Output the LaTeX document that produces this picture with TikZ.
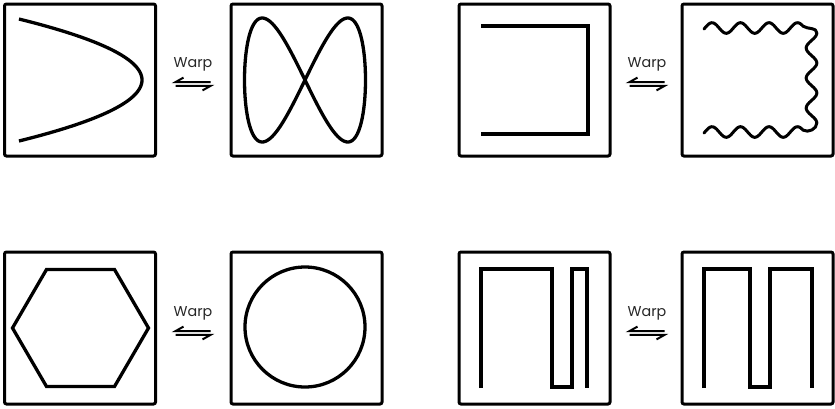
\documentclass[tikz,border=0pt]{standalone}
\usepackage{fontspec}
\setmainfont{Poppins}
\begin{document}
\begin{tikzpicture}[x=1pt,y=-1pt,
  frame/.style={draw=black, line width=3pt, rounded corners=2pt, minimum width=151pt, minimum height=152pt, inner sep=0pt},
  shape line/.style={draw=black, line width=3.3pt, line join=miter},
  harp/.style={draw=black, line width=2pt, line join=miter},
  warplabel/.style={font=\fontsize{14.3}{16}\selectfont, anchor=base, inner sep=0pt, text=black!85}]
\useasboundingbox (0,0) rectangle (835,408);

% frames
\node[frame] (b1) at (80,80) {};
\node[frame] (b2) at (306.5,80) {};
\node[frame] (b3) at (534.5,80) {};
\node[frame] (b4) at (757.5,80) {};
\node[frame] (b5) at (80,328) {};
\node[frame] (b6) at (306.5,328) {};
\node[frame] (b7) at (534.5,328) {};
\node[frame] (b8) at (757.5,328) {};

% 1: parabola
\draw[shape line] plot[domain=-61:61, samples=90, variable=\t] ({142-0.03306*\t*\t},{80+\t});
% 2: figure eight
\draw[shape line] plot[domain=0:360, samples=200, smooth, variable=\t] ({305+60.5*cos(\t)},{80+62*sin(2*\t)}) -- cycle;
% 3: bracket
\draw[shape line] (481,26) -- (588,26) -- (588,134) -- (481,134);
% 4: wavy bracket
\draw[shape line, line width=3pt, line join=round, line cap=round]
  plot[domain=704:803, samples=80, variable=\t] ({\t},{28-5.3*cos(12.6316*(\t-712))})
  to[out=-35,in=90] (816.8,33)
  -- plot[domain=33:123, samples=80, variable=\t] ({811.5+5.3*cos(12*(\t-33))},{\t})
  to[out=-90,in=-30] (803,130.1)
  -- plot[domain=803:704, samples=80, variable=\t] ({\t},{132-5.3*cos(12.6316*(\t-712))});
% 5: hexagon
\draw[shape line] (46.5,269.5) -- (114.5,269.5) -- (148.5,328) -- (114.5,386.5) -- (46.5,386.5) -- (12.5,328) -- cycle;
% 6: circle
\draw[shape line] (305,327) circle (60);
% 7: meander
\draw[shape line] (481,388) -- (481,269) -- (552,269) -- (552,387) -- (572,387) -- (572,269) -- (587,269) -- (587,388);
% 8: meander
\draw[shape line] (704,388) -- (704,269) -- (750,269) -- (750,387) -- (770,387) -- (770,269) -- (812,269) -- (812,388);

% labels
\node[warplabel] (w1) at (193,67) {Warp};
\node[warplabel] (w2) at (647,67) {Warp};
\node[warplabel] (w3) at (193,316) {Warp};
\node[warplabel] (w4) at (647,316) {Warp};

% harpoons
\foreach \cx/\cy/\nm in {193/84/a, 647/84/b, 193/333/c, 647/333/d}{
  \coordinate (\nm L) at (\cx-17.5,\cy);
  \coordinate (\nm R) at (\cx+17.5,\cy);
  \draw[harp] ([yshift=1.9pt]\nm R) -- ([yshift=1.9pt]\nm L) -- ++(8,-4.5);
  \draw[harp] ([yshift=-1.9pt]\nm L) -- ([yshift=-1.9pt]\nm R) -- ++(-8,4.5);
}
\end{tikzpicture}
\end{document}
